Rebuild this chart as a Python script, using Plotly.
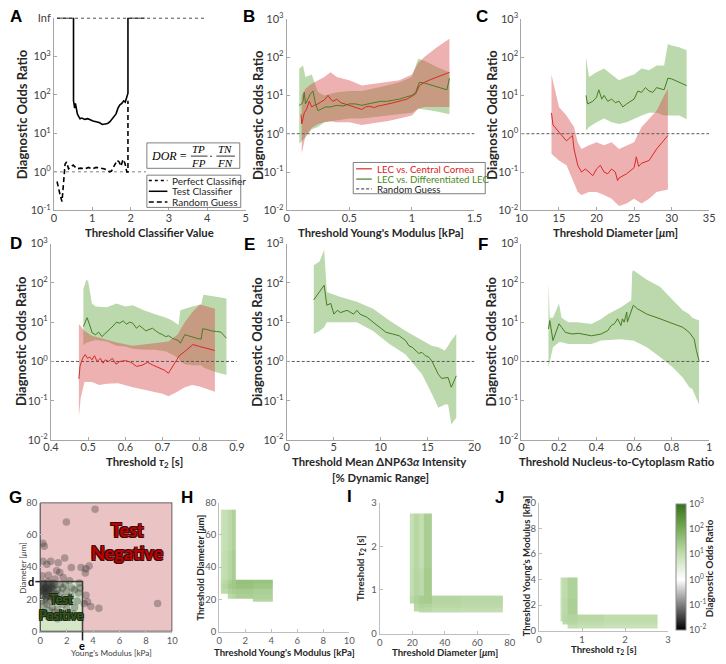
import math
import plotly.graph_objects as go

W, H = 726, 664
FONT = "Lato, 'Open Sans', sans-serif"
INF = 1e4  # axis position labelled "Inf"

# ---------------- Panel A ----------------
a_perfect_x = [0.08, 3.95]
a_perfect_y = [INF, INF]
a_test_x = [0.08, 0.51, 0.51, 0.54, 0.56, 0.58, 0.61, 0.64, 0.68, 0.73, 0.8, 0.88, 0.95, 1.02, 1.1,
            1.18, 1.26, 1.33, 1.4, 1.46, 1.52, 1.57, 1.62, 1.67, 1.72, 1.77, 1.82, 1.86, 1.9, 1.93, 1.93, 2.37]
a_test_y = [INF, INF, 70, 45, 60, 40, 32, 28, 24, 25, 23, 24, 22, 21, 20,
            19, 17, 17.5, 18, 20, 24, 28, 32, 45, 55, 60, 70, 65, 90, 110, INF, INF]
a_rand_x = [0.08, 0.12, 0.17, 0.21, 0.25, 0.29, 0.33, 0.38, 0.42, 0.5, 0.6, 0.7, 0.8, 0.9, 1.0, 1.1,
            1.2, 1.3, 1.4, 1.45, 1.5, 1.55, 1.6, 1.65, 1.7, 1.75, 1.8, 1.85, 1.9, 1.93, 1.93]
a_rand_y = [0.56, 0.35, 0.23, 0.17, 0.68, 1.6, 1.8, 1.2, 1.3, 1.5, 1.2, 1.25, 1.2, 1.3, 1.2, 1.3,
            1.25, 1.2, 1.1, 1.0, 1.05, 1.3, 1.6, 2.0, 1.8, 1.4, 2.1, 1.7, 1.0, 1.0, 70]
a_ref_x = [0, 2.4]

# ---------------- Panel B ----------------
b_red_x = [0.115, 0.12, 0.14, 0.16, 0.18, 0.2, 0.22, 0.25, 0.28, 0.3, 0.33, 0.35, 0.37, 0.4, 0.43, 0.46,
           0.5, 0.53, 0.56, 0.6, 0.63, 0.66, 0.7, 0.73, 0.76, 0.8, 0.84, 0.88, 0.92, 0.96, 1.0, 1.03,
           1.06, 1.1, 1.15, 1.2, 1.25, 1.3]
b_red_y = [3.2, 1.8, 3.5, 4.5, 7, 5, 5.5, 6, 7, 7.5, 10, 8, 7, 8, 6.5, 6,
           5.5, 5, 4.8, 4.3, 5, 5.2, 4.8, 5.3, 5.5, 6, 6.3, 6.8, 7.5, 8, 9.5, 11,
           18, 22, 26, 30, 35, 40]
b_red_band_x = [0.12, 0.15, 0.2, 0.25, 0.3, 0.35, 0.4, 0.5, 0.6, 0.7, 0.8, 0.9, 1.0, 1.05, 1.1, 1.2, 1.3]
b_red_lo = [0.3, 0.9, 1.4, 1.8, 2.0, 2.1, 2.0, 2.0, 1.7, 1.9, 2.1, 2.5, 3.0, 4.5, 5, 5, 5]
b_red_hi = [10, 15, 20, 25, 30, 40, 30, 25, 18, 20, 22, 25, 35, 70, 100, 180, 300]
b_grn_x = [0.1, 0.12, 0.13, 0.14, 0.15, 0.17, 0.19, 0.21, 0.23, 0.25, 0.28, 0.31, 0.35, 0.4, 0.45, 0.5,
           0.55, 0.6, 0.65, 0.7, 0.75, 0.8, 0.85, 0.9, 0.95, 1.0, 1.03, 1.06, 1.1, 1.15, 1.2, 1.25, 1.28, 1.3]
b_grn_y = [5.5, 6, 7, 12, 6, 8, 11, 13, 6, 4, 4.5, 5, 5, 5.5, 5.3, 6,
           6, 5.5, 6, 6.5, 7, 7, 7.5, 8, 9, 10, 12, 22, 21, 19, 17, 15, 14, 28]
b_grn_band_x = [0.1, 0.13, 0.15, 0.2, 0.25, 0.3, 0.4, 0.5, 0.6, 0.7, 0.8, 0.9, 1.0, 1.05, 1.1, 1.2, 1.3]
b_grn_lo = [0.55, 0.7, 0.8, 1.3, 1.5, 2.0, 2.2, 2.5, 2.5, 2.7, 3.0, 3.2, 3.5, 4.5, 4.3, 3.8, 3.2]
b_grn_hi = [50, 60, 30, 35, 12, 10, 12, 13, 13, 15, 18, 22, 30, 90, 80, 55, 40]

# ---------------- Panel C ----------------
c_red_x = [14, 14.2, 15, 16, 16.5, 16.8, 17, 17.5, 18, 18.5, 19, 19.5, 20, 20.5, 21, 21.5, 22, 22.5,
           22.8, 23, 24, 25, 25.3, 25.6, 26, 27, 28, 29, 29.5]
c_red_y = [3.5, 1.7, 1.1, 0.65, 0.8, 0.9, 0.4, 0.15, 0.1, 0.12, 0.1, 0.08, 0.12, 0.15, 0.1, 0.09, 0.12, 0.1,
           0.06, 0.07, 0.09, 0.13, 0.25, 0.14, 0.17, 0.2, 0.4, 0.7, 0.9]
c_red_band_x = [14, 15, 16, 17, 17.5, 18, 19, 20, 21, 22, 23, 24, 25, 26, 27, 28, 29, 29.5]
c_red_hi = [35, 5, 3, 1.5, 0.6, 0.4, 0.5, 0.6, 0.5, 0.6, 0.4, 0.5, 0.6, 1.5, 2.5, 4, 10, 15]
c_red_lo = [0.3, 0.2, 0.15, 0.05, 0.03, 0.025, 0.03, 0.03, 0.025, 0.02, 0.013, 0.015, 0.02, 0.015, 0.02,
            0.03, 0.033, 0.035]
c_grn_x = [18.6, 18.8, 19.5, 20, 20.3, 20.7, 21, 21.5, 22, 22.5, 23, 23.5, 24, 24.5, 25, 25.5, 26, 26.5,
           27, 27.5, 28, 29, 29.5, 30, 31, 32]
c_grn_y = [10, 6, 7, 9, 14, 8, 10, 7, 8, 6.5, 7, 5, 6, 7, 8, 13, 12, 16, 13, 12, 16, 14, 28, 27, 22, 18]
c_grn_band_x = [18.6, 19, 20, 21, 22, 23, 24, 25, 26, 27, 28, 29, 29.5, 30, 31, 32]
c_grn_hi = [100, 30, 40, 50, 35, 25, 30, 35, 50, 45, 60, 60, 220, 200, 180, 150]
c_grn_lo = [1.2, 1.5, 2, 2.5, 2, 1.8, 2, 2.5, 3, 3.5, 3.5, 3, 3, 3, 3, 2.4]

# ---------------- Panel D ----------------
d_red_x = [0.475, 0.478, 0.482, 0.487, 0.492, 0.498, 0.504, 0.51, 0.517, 0.524, 0.533, 0.54, 0.546, 0.555,
           0.565, 0.575, 0.585, 0.6, 0.615, 0.63, 0.645, 0.66, 0.675, 0.69, 0.705, 0.716, 0.73, 0.745,
           0.76, 0.782, 0.8, 0.82, 0.841]
d_red_y = [0.36, 0.75, 1.0, 1.3, 1.5, 1.2, 1.3, 1.1, 1.4, 1.0, 1.2, 0.9, 1.1, 1.0,
           1.2, 0.85, 1.0, 1.05, 0.95, 0.75, 0.8, 0.95, 0.8, 0.7, 0.6, 0.5, 0.8, 1.4,
           1.8, 2.7, 2.4, 2.1, 1.9]
d_red_band_x = [0.475, 0.48, 0.49, 0.51, 0.53, 0.55, 0.58, 0.62, 0.66, 0.7, 0.716, 0.74, 0.76, 0.78, 0.8,
                0.82, 0.841]
d_red_hi = [9, 8, 6, 4.5, 4, 3.5, 3, 2.5, 2.8, 3.0, 3.2, 4.8, 10, 18, 28, 25, 22]
d_red_lo = [0.04, 0.12, 0.3, 0.3, 0.25, 0.27, 0.28, 0.22, 0.18, 0.15, 0.13, 0.17, 0.22, 0.25, 0.23, 0.2, 0.17]
d_grn_x = [0.487, 0.493, 0.497, 0.503, 0.511, 0.52, 0.528, 0.537, 0.545, 0.55, 0.56, 0.567, 0.576, 0.585,
           0.594, 0.603, 0.612, 0.62, 0.63, 0.638, 0.647, 0.655, 0.664, 0.673, 0.682, 0.69, 0.7, 0.708,
           0.717, 0.726, 0.735, 0.743, 0.748, 0.76, 0.77, 0.782, 0.795, 0.804, 0.808, 0.82, 0.831, 0.845,
           0.857, 0.872]
d_grn_y = [7.7, 10, 13, 9, 5.3, 4.8, 5.6, 4.3, 5, 5.8, 7, 8, 10, 9.4,
           10.8, 8.9, 10, 9.4, 7, 8.2, 7, 6, 6.5, 7, 6, 5.3, 4.8, 4.3,
           4.5, 3.9, 3.6, 3.4, 2.9, 4.8, 4.5, 4.1, 3.8, 3.7, 6.8, 6.5, 6, 5.8,
           5.6, 3.9]
d_grn_band_x = [0.487, 0.495, 0.5, 0.51, 0.52, 0.55, 0.576, 0.6, 0.62, 0.65, 0.68, 0.71, 0.726, 0.743,
                0.748, 0.76, 0.78, 0.804, 0.81, 0.84, 0.872]
d_grn_hi = [70, 120, 110, 30, 25, 24, 30, 25, 27, 20, 16, 13, 11, 8.5, 20, 22, 25, 28, 50, 45, 40]
d_grn_lo = [2.6, 3, 3.2, 3.3, 3.5, 3.2, 2.5, 2.4, 2.1, 2, 2, 1.8, 1.5, 1.2, 1.0, 0.85, 0.8, 0.8, 0.7,
            0.55, 0.45]

# ---------------- Panel E ----------------
e_x = [2.88, 3.99, 4.27, 4.69, 5.03, 5.38, 5.73, 6.42, 7.12, 7.47, 7.81, 8.51, 9.2, 9.9, 10.59, 11.28,
       11.98, 12.67, 13.02, 13.37, 13.72, 14.06, 14.41, 14.76, 15.1, 15.45, 15.8, 16.15, 16.49, 17.19,
       17.53, 18.06]
e_y = [37, 87, 27, 30, 16, 20, 17.5, 20, 16, 20, 16, 13.5, 10, 7.4, 5.5, 5,
       4.5, 3.4, 2.5, 2.3, 1.9, 1.6, 1.7, 1.4, 1.3, 1.04, 0.7, 0.47, 0.37, 0.39,
       0.22, 0.43]
e_band_x = [2.88, 3.5, 3.99, 4.27, 5.73, 7.47, 9.2, 10.94, 12.67, 14.41, 15.45, 16.15, 16.84, 17.19,
            17.53, 18.06]
e_hi = [280, 350, 700, 59, 44, 33, 22, 11, 6, 3.4, 2.5, 2.3, 1.9, 2.5, 3.4, 5]
e_lo = [5, 6, 7.4, 10, 10, 10, 6, 2.8, 1.5, 0.47, 0.15, 0.066, 0.08, 0.08, 0.025, 0.037]

# ---------------- Panel F ----------------
f_x = [0.144, 0.151, 0.168, 0.2, 0.214, 0.234, 0.269, 0.304, 0.373, 0.425, 0.46, 0.478, 0.495, 0.512,
       0.53, 0.538, 0.547, 0.561, 0.564, 0.596, 0.617, 0.668, 0.738, 0.807, 0.859, 0.894, 0.92, 0.932,
       0.946]
f_y = [6.7, 11, 3.4, 9.1, 7.4, 5.5, 5.0, 5.2, 4.5, 5.0, 6.1, 8.2, 9.1, 12.2,
       8.2, 12.2, 10, 18, 10, 27, 22, 16, 12.2, 9.1, 7.4, 5.5, 3.7, 1.9,
       1.04]
f_band_x = [0.144, 0.151, 0.168, 0.2, 0.214, 0.25, 0.3, 0.373, 0.425, 0.46, 0.53, 0.585, 0.59, 0.596,
            0.668, 0.738, 0.807, 0.859, 0.894, 0.91, 0.946]
f_hi = [96, 13, 13, 30, 13, 10, 10, 9, 12, 16, 24, 36, 190, 210, 120, 80, 36, 20, 16, 13, 11]
f_lo = [0.7, 1.0, 2.3, 3.1, 3.1, 2.8, 2.8, 2.8, 3.4, 3.4, 3.7, 3.4, 3.4, 3.4, 2.3, 1.3, 0.7, 0.39, 0.22,
        0.2, 0.08]

# ---------------- Panel G ----------------
g_ym = [4.15, 1.98, 0.2, 0.3, 0.2, 0.79, 1.85, 1.36, 0.5, 3.7, 3.46, 3.09, 2.35, 1.24, 1.48, 3.41, 0.62,
        0.13, 1.11, 1.73, 2.22, 2.96, 3.46, 3.83, 4.44, 3.58, 3.33, 8.89,
        0.1, 0.2, 0.3, 0.4, 0.5, 0.6, 0.7, 0.8, 0.9, 1.0, 1.1, 1.2, 0.15, 0.25, 0.35, 0.45, 0.55, 0.65,
        0.75, 0.85, 0.95, 1.3, 1.5, 1.7, 2.0, 2.3, 2.6, 2.9, 1.4, 1.8, 2.2, 2.6, 1.1, 1.6, 0.5, 0.3,
        0.1, 0.9, 1.3, 2.0, 0.7, 2.8, 3.0, 0.2, 0.6, 1.0, 1.5, 0.05, 0.35, 0.85, 1.9, 2.4, 0.4, 1.2,
        1.7, 2.5, 0.6, 1.3, 0.15, 0.25, 0.5, 0.75, 0.3, 0.6, 0.15, 0.45, 0.9]
g_diam = [75.9, 67.9, 54.8, 53, 43.7, 43.7, 45.7, 42.7, 41.7, 40.7, 39, 39.7, 39.7, 37.7, 36.6, 36.3, 35,
          34.6, 32.6, 33.6, 31.6, 30.2, 22.6, 15.5, 14.5, 18.5, 17.5, 17.5,
          28, 26, 24, 27, 29, 25, 22, 27, 24, 26, 29, 23, 22, 30, 20, 23, 26, 30,
          19, 21, 28, 26, 24, 27, 25, 22, 26, 24, 19, 21, 18, 15, 12, 10, 17, 16,
          19, 15, 14, 14, 13, 19, 27, 30, 31, 30, 29, 25, 27, 29, 29, 27, 21, 20,
          17, 11, 9, 8, 12, 25, 22, 26, 29, 27, 26, 25, 22]
g_e = 3.2   # Young's modulus threshold
g_d = 31    # diameter threshold

# ---------------- Panels H, I, J (DOR maps) ----------------
h_x_edges = [0.12, 0.3, 0.68, 0.95, 1.3, 2.6, 4.1]
h_y_edges = [18.5, 20.6, 23.6, 26.5, 29.5, 32, 50, 75.6]
h_dor = [[None, None, None, None, None, 15],
         [None, None, 12, 15, 20, 18],
         [10, 12, 18, 22, 25, 20],
         [12, 15, 25, 30, 35, 30],
         [10, 12, 20, 28, 40, 35],
         [8, 10, 14, 22, None, None],
         [7, 9, 12, 18, None, None]]
i_x_edges = [18.6, 21, 24, 27, 32, 50, 75.6]
i_y_edges = [0.48, 0.5, 0.59, 0.69, 0.87, 1.5, 2.75]
i_dor = [[None, None, 10, 10, 9, 8],
         [None, 12, 14, 13, 11, 10],
         [None, 14, 18, 16, 13, 12],
         [12, 18, 22, 25, 15, 13],
         [10, 15, 12, 25, None, None],
         [9, 14, 10, 22, None, None]]
j_x_edges = [0.5, 0.54, 0.66, 0.89, 1.5, 2.76]
j_y_edges = [0.15, 0.45, 0.7, 1.27, 2.5, 4.15]
j_dor = [[None, None, 10, 9, 8],
         [None, 12, 14, 11, 10],
         [9, 14, 16, 13, 11],
         [9, 12, 20, None, None],
         [8, 11, 18, None, None]]

LOG_TICKS = [0.01, 0.1, 1, 10, 100, 1000]
LOG_TEXT = ['10<sup>-2</sup>', '10<sup>-1</sup>', '10<sup>0</sup>', '10<sup>1</sup>', '10<sup>2</sup>',
            '10<sup>3</sup>']
A_TICKS = [0.1, 1, 10, 100, 1000, INF]
A_TEXT = ['10<sup>-1</sup>', '10<sup>0</sup>', '10<sup>1</sup>', '10<sup>2</sup>', '10<sup>3</sup>', 'Inf']

RED = 'rgb(220,40,40)'
GRN = 'rgb(70,125,35)'
RED_FILL = 'rgba(215,70,70,0.42)'
GRN_FILL = 'rgba(105,170,70,0.45)'

# panel pixel boxes: (x0, x1), (y0, y1)
DOM = {
    'A': ((47, 243), (9, 206)),
    'B': ((285, 477), (10, 206)),
    'C': ((525, 717), (10, 206)),
    'D': ((44, 234), (240, 441)),
    'E': ((285, 477), (240, 441)),
    'F': ((525, 717), (240, 441)),
    'G': ((33, 168), (505, 637)),
    'H': ((216, 349), (505, 637)),
    'I': ((380, 513), (505, 639)),
    'J': ((543, 675), (505, 636)),
}
NAMES = list(DOM.keys())


def ax(name):
    i = NAMES.index(name) + 1
    s = '' if i == 1 else str(i)
    return 'x' + s, 'y' + s


def px(x):
    return x / W


def py(y):
    return 1 - y / H


fig = go.Figure()


def line(name, x, y, color, width=1.0, dash='solid'):
    xa, ya = ax(name)
    fig.add_trace(go.Scatter(x=x, y=y, mode='lines', line=dict(color=color, width=width, dash=dash),
                             xaxis=xa, yaxis=ya, hoverinfo='skip', showlegend=False))


def band(name, x, lo, hi, color):
    xa, ya = ax(name)
    fig.add_trace(go.Scatter(x=list(x) + list(x)[::-1], y=list(hi) + list(lo)[::-1], mode='lines',
                             fill='toself', fillcolor=color, line=dict(width=0),
                             xaxis=xa, yaxis=ya, hoverinfo='skip', showlegend=False))


# A
line('A', a_perfect_x, a_perfect_y, 'black', 1.3, 'dot')
line('A', a_ref_x, [1, 1], '#808080', 1, 'dot')
line('A', a_test_x, a_test_y, 'black', 1.6)
line('A', a_rand_x, a_rand_y, 'black', 1.6, '5px,3px')

# B
band('B', b_grn_band_x, b_grn_lo, b_grn_hi, GRN_FILL)
band('B', b_red_band_x, b_red_lo, b_red_hi, RED_FILL)
line('B', [0, 1.5], [1, 1], '#595959', 1, '3px,2px')
line('B', b_red_x, b_red_y, RED)
line('B', b_grn_x, b_grn_y, GRN)

# C
band('C', c_grn_band_x, c_grn_lo, c_grn_hi, GRN_FILL)
band('C', c_red_band_x, c_red_lo, c_red_hi, RED_FILL)
line('C', [10, 35], [1, 1], '#595959', 1, '3px,2px')
line('C', c_red_x, c_red_y, RED)
line('C', c_grn_x, c_grn_y, GRN)

# D
band('D', d_grn_band_x, d_grn_lo, d_grn_hi, GRN_FILL)
band('D', d_red_band_x, d_red_lo, d_red_hi, RED_FILL)
line('D', [0.4, 0.9], [1, 1], '#595959', 1, '3px,2px')
line('D', d_red_x, d_red_y, RED)
line('D', d_grn_x, d_grn_y, GRN)

# E
band('E', e_band_x, e_lo, e_hi, GRN_FILL)
line('E', [0, 20], [1, 1], '#595959', 1, '3px,2px')
line('E', e_x, e_y, GRN)

# F
band('F', f_band_x, f_lo, f_hi, GRN_FILL)
line('F', [0, 1], [1, 1], '#595959', 1, '3px,2px')
line('F', f_x, f_y, GRN)

# G scatter
xa, ya = ax('G')
fig.add_trace(go.Scatter(x=g_ym, y=g_diam, mode='markers',
                         marker=dict(size=7.5, color='rgba(45,45,45,0.33)', line=dict(width=0)),
                         xaxis=xa, yaxis=ya, hoverinfo='skip', showlegend=False))


def logs(g):
    return [[None if v is None else math.log10(v) for v in row] for row in g]


for nm, xe, ye, z in (('H', h_x_edges, h_y_edges, h_dor), ('I', i_x_edges, i_y_edges, i_dor),
                      ('J', j_x_edges, j_y_edges, j_dor)):
    xa, ya = ax(nm)
    fig.add_trace(go.Heatmap(x=xe, y=ye, z=logs(z), coloraxis='coloraxis', xaxis=xa, yaxis=ya,
                             hoverinfo='skip', xgap=0, ygap=0))

layout = dict(width=W, height=H, margin=dict(l=0, r=0, t=0, b=0), paper_bgcolor='white',
              plot_bgcolor='rgba(0,0,0,0)', showlegend=False, font=dict(family=FONT, color='#404040'))

base_line = dict(showline=True, linecolor='#a6a6a6', linewidth=1, ticks='inside', ticklen=3,
                 tickcolor='#a6a6a6', showgrid=False, zeroline=False,
                 tickfont=dict(family=FONT, size=11, color='#404040'))
small_line = dict(showline=True, linecolor='#bfbfbf', linewidth=1, ticks='inside', ticklen=3,
                  tickcolor='#bfbfbf', showgrid=False, zeroline=False,
                  tickfont=dict(family=FONT, size=9.5, color='#595959'))

xcfg = {
    'A': dict(range=[0, 5], tickvals=[0, 1, 2, 3, 4, 5]),
    'B': dict(range=[0, 1.5], tickvals=[0, 0.5, 1, 1.5]),
    'C': dict(range=[10, 35], tickvals=[10, 15, 20, 25, 30, 35]),
    'D': dict(range=[0.4, 0.9], tickvals=[0.4, 0.5, 0.6, 0.7, 0.8, 0.9]),
    'E': dict(range=[0, 20], tickvals=[0, 5, 10, 15, 20]),
    'F': dict(range=[0, 1], tickvals=[0, 0.2, 0.4, 0.6, 0.8, 1], ticktext=['0', '0.2', '0.4', '0.6', '0.8', '1']),
    'G': dict(range=[0, 10], tickvals=[0, 2, 4, 6, 8, 10]),
    'H': dict(range=[0, 10], tickvals=[0, 2, 4, 6, 8, 10]),
    'I': dict(range=[0, 80], tickvals=[0, 20, 40, 60, 80]),
    'J': dict(range=[0, 3], tickvals=[0, 1, 2, 3]),
}
ycfg = {
    'A': dict(type='log', range=[-1, 4], tickvals=A_TICKS, ticktext=A_TEXT),
    'G': dict(range=[0, 80], tickvals=[0, 20, 40, 60, 80]),
    'H': dict(range=[0, 80], tickvals=[0, 20, 40, 60, 80]),
    'I': dict(range=[0, 3], tickvals=[0, 1, 2, 3]),
    'J': dict(range=[0, 10], tickvals=[0, 2, 4, 6, 8, 10]),
}
for nm in 'BCDEF':
    ycfg[nm] = dict(type='log', range=[-2, 3], tickvals=LOG_TICKS, ticktext=LOG_TEXT)

for nm, ((x0, x1), (y0, y1)) in DOM.items():
    xa, ya = ax(nm)
    kx = 'xaxis' + xa[1:]
    ky = 'yaxis' + ya[1:]
    style = base_line if nm in 'ABCDEF' else small_line
    extra = dict(ticklabelstandoff=-3) if nm in 'ABCDEF' else {}
    layout[kx] = dict(domain=[px(x0), px(x1)], anchor=ya, **style, **extra, **xcfg[nm])
    layout[ky] = dict(domain=[py(y1), py(y0)], anchor=xa, **style, **ycfg[nm])

layout['coloraxis'] = dict(
    cmin=-2, cmax=3,
    colorscale=[[0, '#000000'], [0.2, '#7f7f7f'], [0.4, '#ffffff'], [0.6, '#c2deb0'],
                [0.8, '#79ad58'], [1, '#37711a']],
    colorbar=dict(x=px(683), xanchor='left', y=py(635), yanchor='bottom', len=(635 - 506) / H,
                  lenmode='fraction', thickness=10, thicknessmode='pixels', xpad=0, ypad=0,
                  outlinewidth=1, outlinecolor='#8c8c8c', ticks='', ticklabelposition='outside',
                  tickvals=[-2, -1, 0, 1, 2, 3], ticktext=LOG_TEXT,
                  tickfont=dict(family=FONT, size=9.5, color='#595959')))

shapes = []
annotations = []


def ann(text, x, y, size=11, bold=False, angle=0, color='#262626', family=FONT, xanchor='center',
        yanchor='middle', **kw):
    annotations.append(dict(text=('<b>%s</b>' % text) if bold else text, x=px(x), y=py(y), xref='paper',
                            yref='paper', showarrow=False, textangle=angle, xanchor=xanchor,
                            yanchor=yanchor, font=dict(family=family, size=size, color=color, **kw)))


def pline(x0, y0, x1, y1, color='#404040', width=1, dash='solid'):
    shapes.append(dict(type='line', xref='paper', yref='paper', x0=px(x0), y0=py(y0), x1=px(x1),
                       y1=py(y1), line=dict(color=color, width=width, dash=dash)))


def prect(x0, y0, x1, y1, color='#7f7f7f', fill='white', width=1):
    shapes.append(dict(type='rect', xref='paper', yref='paper', x0=px(x0), y0=py(y0), x1=px(x1),
                       y1=py(y1), line=dict(color=color, width=width), fillcolor=fill, layer='above'))


# panel letters
LET = 'Liberation Sans, Arial, sans-serif'
for t, x, y in (('A', 8, 8), ('B', 246, 8), ('C', 485, 8), ('D', 8, 240), ('E', 247, 241),
                ('F', 486, 241), ('G', 8, 500), ('H', 183, 500), ('I', 349, 499), ('J', 503, 500)):
    ann(t, x, y, size=17, bold=True, color='black', family=LET)

# axis titles rows 1-2
YT = 'Diagnostic Odds Ratio'
YS = 13
XS = 11.3
for x, y in ((14, 108), (255, 108), (494, 108), (14, 340), (255, 340), (494, 340)):
    ann(YT, x, y, size=YS, bold=True, angle=-90)
ann('Threshold Classifier Value', 145, 229, size=XS, bold=True)
ann("Threshold Young's Modulus [kPa]", 381, 229, size=XS, bold=True)
ann('Threshold Diameter [<i>μ</i>m]', 621, 229, size=XS, bold=True)
ann('Threshold <i>τ</i><sub>2</sub> [s]', 140, 464, size=XS, bold=True)
ann('Threshold Mean ΔNP63<i>α</i> Intensity', 379, 463, size=XS, bold=True)
ann('[% Dynamic Range]', 381, 479, size=XS, bold=True)
ann('Threshold Nucleus-to-Cytoplasm Ratio', 623, 463, size=XS, bold=True)

# row 3 titles
RS = 9.6
ann('Diameter [<i>μ</i>m]', 15, 572, size=8.2, angle=-90, color='#404040')
ann("Young's Modulus [kPa]", 106, 659, size=8.2, color='#404040')
ann('Threshold Diameter [<i>μ</i>m]', 196, 572, size=RS, bold=True, angle=-90)
ann("Threshold Young's Modulus [kPa]", 283, 658, size=RS, bold=True)
ann('Threshold <i>τ</i><sub>2</sub> [s]', 361, 572, size=RS, bold=True, angle=-90)
ann('Threshold Diameter [<i>μ</i>m]', 447, 658, size=RS, bold=True)
ann("Threshold Young's Modulus [kPa]", 530, 570, size=RS, bold=True, angle=-90)
ann('Threshold <i>τ</i><sub>2</sub> [s]', 609, 656, size=RS, bold=True)
ann('Diagnostic Odds Ratio', 717, 572, size=9.8, bold=True, angle=-90)

# G decorations
xa, ya = ax('G')
shapes.append(dict(type='rect', xref=xa, yref=ya, x0=0, y0=0, x1=10, y1=80, layer='below',
                   fillcolor='#eac3c5', line=dict(color='#3f3f3f', width=1.5)))
shapes.append(dict(type='rect', xref=xa, yref=ya, x0=0, y0=0, x1=g_e, y1=g_d, layer='below',
                   fillcolor='#d4e8c8', line=dict(color='#3f3f3f', width=1.5)))
annotations.append(dict(text='<b>Test<br>Negative</b>', x=6.6, y=56, xref=xa, yref=ya, showarrow=False,
                        font=dict(family=FONT, size=18, color='#c00000',
                                  shadow='-1px -1px 0 #3a0a0a, 1px -1px 0 #3a0a0a, -1px 1px 0 #3a0a0a, 1px 1px 0 #3a0a0a')))
annotations.append(dict(text='<b>Test<br>Positive</b>', x=1.6, y=15, xref=xa, yref=ya, showarrow=False,
                        font=dict(family=FONT, size=12.5, color='#375623',
                                  shadow='-1px -1px 0 #1a2a10, 1px -1px 0 #1a2a10, -1px 1px 0 #1a2a10, 1px 1px 0 #1a2a10')))
gx0, gx1 = DOM['G'][0]
gy0, gy1 = DOM['G'][1]
d_pix = gy1 - g_d / 80 * (gy1 - gy0)
e_pix = gx0 + g_e / 10 * (gx1 - gx0)
pline(28, d_pix, gx0, d_pix, '#202020', 1.5)
ann('d', 24, d_pix, size=11, bold=True, color='black')
pline(e_pix, gy1, e_pix, gy1 + 9, '#202020', 1.5)
ann('e', e_pix - 1, 651, size=11, bold=True, color='black')

# A: formula box
prect(142, 137, 237, 163)
SER = "'Liberation Serif', 'DejaVu Serif', serif"
ann('<i>DOR</i> =', 165, 150, size=12, family=SER, color='black')
ann('<i>TP</i>', 195, 143, size=11, family=SER, color='black')
ann('<i>FP</i>', 195, 157.5, size=11, family=SER, color='black')
pline(187, 150.5, 204, 150.5, 'black', 0.8)
ann('·', 208, 150, size=12, family=SER, color='black')
ann('<i>TN</i>', 222, 143, size=11, family=SER, color='black')
ann('<i>FN</i>', 222, 157.5, size=11, family=SER, color='black')
pline(213, 150.5, 232, 150.5, 'black', 0.8)

# A: legend box
prect(142, 170, 238, 203)
for yy, dash, label in ((175.5, 'dot', 'Perfect Classifier'), (186.5, 'solid', 'Test Classifier'),
                        (197.5, '5px,3px', 'Random Guess')):
    pline(144, yy, 163, yy, 'black', 1.5, dash)
    ann(label, 166, yy, size=10, color='#262626', xanchor='left')

# B: legend box
prect(353, 157, 488, 189)
for yy, col, dash, label, tcol in ((163.5, RED, 'solid', 'LEC vs. Central Cornea', '#e02020'),
                                   (174, GRN, 'solid', 'LEC vs. Differentiated LEC', '#4a8a22'),
                                   (184, '#595959', '3px,2px', 'Random Guess', '#262626')):
    pline(356, yy, 372, yy, col, 1.2, dash)
    ann(label, 375, yy, size=9.7, color=tcol, xanchor='left')

layout['shapes'] = shapes
layout['annotations'] = annotations
fig.update_layout(**layout)
fig.write_html('out.html', config={'displayModeBar': False},
               post_script="document.body.style.margin='0px';")
